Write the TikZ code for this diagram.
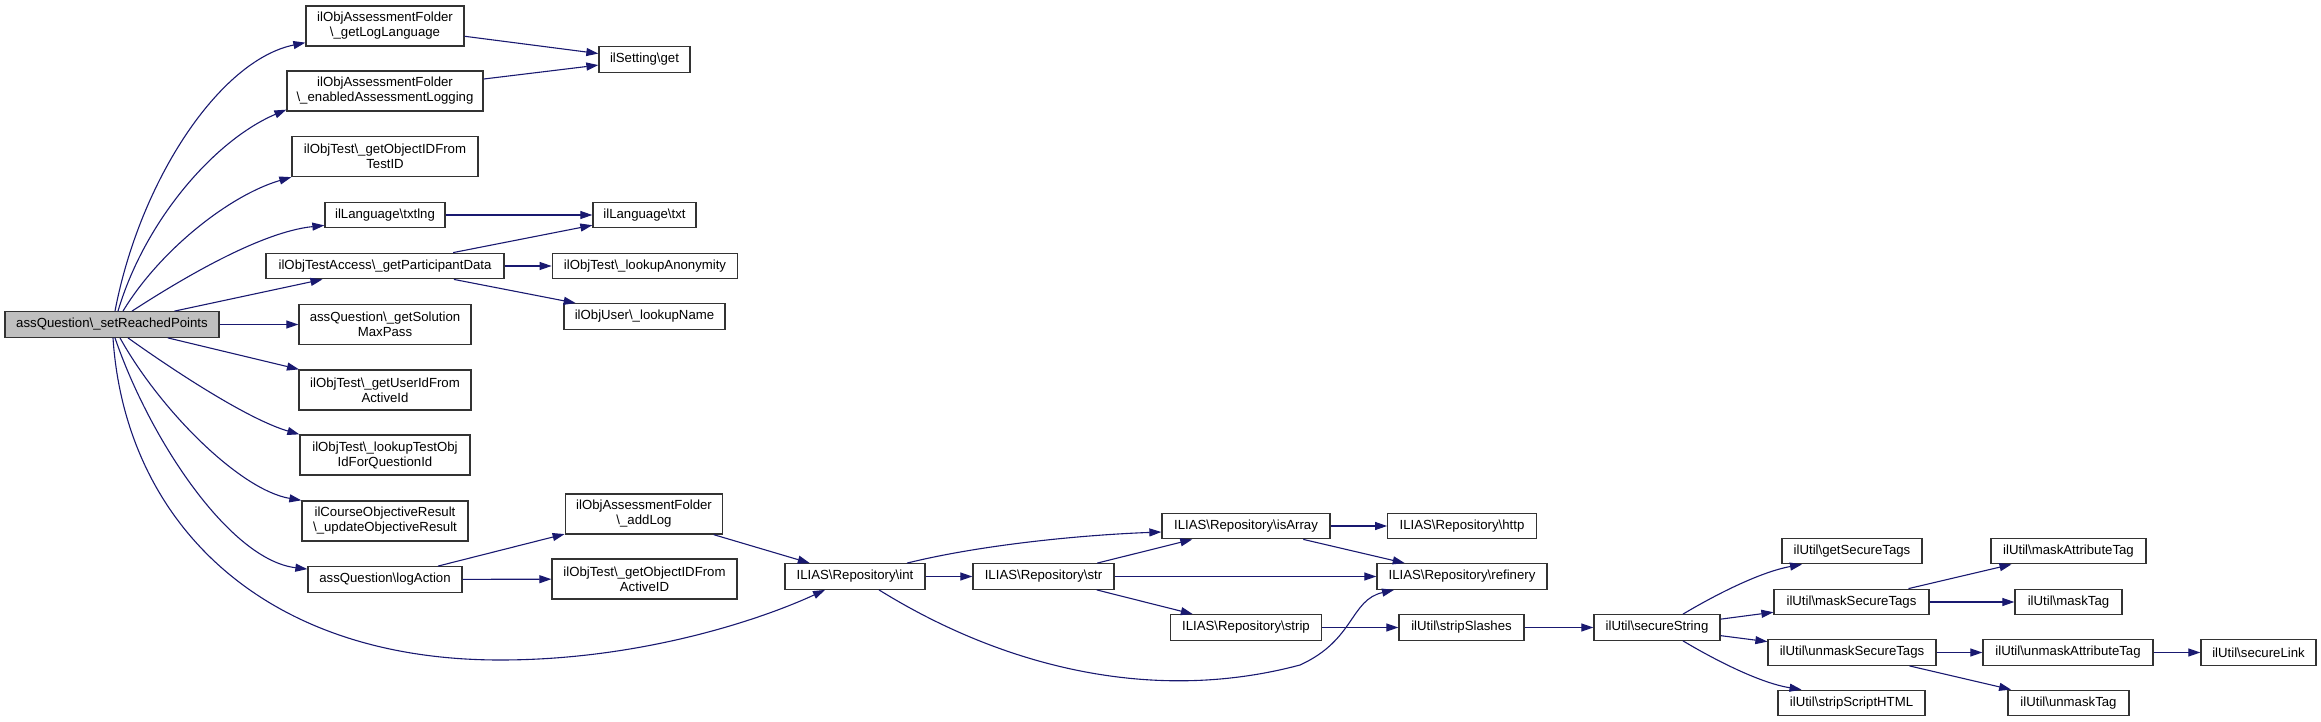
\documentclass[tikz,border=0pt]{standalone}
\usepackage{fontspec}
\setmainfont{Liberation Sans}
\usetikzlibrary{arrows.meta}
\newcommand{\bsl}{\textbackslash}
\definecolor{edgeblue}{HTML}{191970}
\definecolor{rootgray}{HTML}{BFBFBF}

\begin{document}
\begin{tikzpicture}[x=1pt,y=-1pt,
		>={Triangle[length=12pt,width=8pt]},
		fn/.style={draw=black!80,line width=1.3pt,fill=white,inner sep=0pt,minimum height=25.5pt,align=center,font=\fontsize{13.2}{15}\selectfont},
		fntwo/.style={fn,minimum height=40pt},
		call/.style={->,color=edgeblue,line width=1.1pt}]
		\useasboundingbox (0,0) rectangle (2321,722);
		% caller
		\node[fn,fill=rootgray,minimum width=214pt] (root) at (112,324.5) {assQuestion\bsl\_setReachedPoints};
		% first column
		\node[fntwo,minimum width=158pt] (logLang) at (385,26) {ilObjAssessmentFolder\\\bsl\_getLogLanguage};
		\node[fntwo,minimum width=196pt] (enabledLog) at (385,91) {ilObjAssessmentFolder\\\bsl\_enabledAssessmentLogging};
		\node[fntwo,minimum width=186pt] (idFromTest) at (385,156.5) {ilObjTest\bsl\_getObjectIDFrom\\TestID};
		\node[fn,minimum width=120pt] (txtlng) at (385,215) {ilLanguage\bsl txtlng};
		\node[fn,minimum width=238pt] (partData) at (385,266) {ilObjTestAccess\bsl\_getParticipantData};
		\node[fntwo,minimum width=172pt] (solMax) at (385,324.5) {assQuestion\bsl\_getSolution\\MaxPass};
		\node[fntwo,minimum width=172pt] (userId) at (385,390) {ilObjTest\bsl\_getUserIdFrom\\ActiveId};
		\node[fntwo,minimum width=170pt] (testObj) at (385,455) {ilObjTest\bsl\_lookupTestObj\\IdForQuestionId};
		\node[fntwo,minimum width=166pt] (updObj) at (385,521) {ilCourseObjectiveResult\\\bsl\_updateObjectiveResult};
		\node[fn,minimum width=154pt] (logAction) at (385,579.5) {assQuestion\bsl logAction};
		% second column
		\node[fn,minimum width=91pt] (setGet) at (644.5,59.5) {ilSetting\bsl get};
		\node[fn,minimum width=103pt] (langTxt) at (644.5,215) {ilLanguage\bsl txt};
		\node[fn,minimum width=185.5pt] (anonym) at (645,266) {ilObjTest\bsl\_lookupAnonymity};
		\node[fn,minimum width=161pt] (lookName) at (644.5,316.5) {ilObjUser\bsl\_lookupName};
		\node[fntwo,minimum width=157.5pt] (addLog) at (644,514) {ilObjAssessmentFolder\\\bsl\_addLog};
		\node[fntwo,minimum width=185pt] (idFromActive) at (644.5,579) {ilObjTest\bsl\_getObjectIDFrom\\ActiveID};
		% repository
		\node[fn,minimum width=140pt] (repInt) at (855,576.5) {ILIAS\bsl Repository\bsl int};
		\node[fn,minimum width=141pt] (repStr) at (1043.5,576.5) {ILIAS\bsl Repository\bsl str};
		\node[fn,minimum width=168pt] (isArray) at (1246,526) {ILIAS\bsl Repository\bsl isArray};
		\node[fn,minimum width=150.5pt] (repStrip) at (1246,627.5) {ILIAS\bsl Repository\bsl strip};
		\node[fn,minimum width=148.5pt] (http) at (1462,526) {ILIAS\bsl Repository\bsl http};
		\node[fn,minimum width=170pt] (refinery) at (1462,576.5) {ILIAS\bsl Repository\bsl refinery};
		\node[fn,minimum width=125pt] (stripSl) at (1461.5,627.5) {ilUtil\bsl stripSlashes};
		% ilUtil
		\node[fn,minimum width=126pt] (secStr) at (1657,627.5) {ilUtil\bsl secureString};
		\node[fn,minimum width=140pt] (getTags) at (1852,551) {ilUtil\bsl getSecureTags};
		\node[fn,minimum width=155pt] (maskTags) at (1851.5,602) {ilUtil\bsl maskSecureTags};
		\node[fn,minimum width=168pt] (unmaskTags) at (1852,652.5) {ilUtil\bsl unmaskSecureTags};
		\node[fn,minimum width=147pt] (scriptHTML) at (1851.5,703) {ilUtil\bsl stripScriptHTML};
		\node[fn,minimum width=155pt] (maskAttr) at (2068.5,551) {ilUtil\bsl maskAttributeTag};
		\node[fn,minimum width=107pt] (maskTag) at (2068.5,602) {ilUtil\bsl maskTag};
		\node[fn,minimum width=170pt] (unmaskAttr) at (2068,652.5) {ilUtil\bsl unmaskAttributeTag};
		\node[fn,minimum width=121pt] (unmaskTag) at (2068.5,703) {ilUtil\bsl unmaskTag};
		\node[fn,minimum width=115pt] (secLink) at (2258.5,652.5) {ilUtil\bsl secureLink};
		% calls from the caller
		\draw[call] ([xshift=3pt]root.north) .. controls (140,180) and (220,60) .. ([yshift=4pt]logLang.south west);
		\draw[call] ([xshift=6pt]root.north) .. controls (145,220) and (215,140) .. ([yshift=2pt]enabledLog.south west);
		\draw[call] ([xshift=11pt]root.north) .. controls (160,250) and (230,195) .. (idFromTest.south west);
		\draw[call] ([xshift=20pt]root.north) .. controls (180,280) and (260,232) .. ([yshift=3pt]txtlng.south west);
		\draw[call] (root) -- (partData);
		\draw[call] (root) -- (solMax);
		\draw[call] (root) -- (userId);
		\draw[call] ([xshift=16pt]root.south) .. controls (180,375) and (250,420) .. (testObj.north west);
		\draw[call] ([xshift=8pt]root.south) .. controls (160,410) and (240,490) .. (updObj.north west);
		\draw[call] ([xshift=3pt]root.south) .. controls (150,440) and (230,560) .. ([yshift=-3pt]logAction.north west);
		\draw[call] ([xshift=1pt]root.south) .. controls (125,520) and (260,660) .. (500,660) .. controls (640,660) and (760,620) .. ([xshift=-30pt]repInt.south);
		% further calls
		\draw[call] (logLang) -- (setGet);
		\draw[call] (enabledLog) -- (setGet);
		\draw[call] (txtlng) -- (langTxt);
		\draw[call] (partData) -- (langTxt);
		\draw[call] (partData) -- (anonym);
		\draw[call] (partData) -- (lookName);
		\draw[call] (logAction) -- (addLog);
		\draw[call] (logAction) -- (idFromActive);
		\draw[call] (addLog) -- (repInt);
		\draw[call] (repInt) -- (repStr);
		\draw[call] ([xshift=52pt]repInt.north) .. controls (980,545) and (1080,535) .. ([yshift=-6pt]isArray.west);
		\draw[call] ([xshift=24pt]repInt.south) .. controls (1000,665) and (1150,705) .. (1300,665) .. controls (1355,640) and (1350,600) .. ([xshift=-68pt]refinery.south);
		\draw[call] (repStr) -- (isArray);
		\draw[call] (repStr) -- (refinery);
		\draw[call] (repStr) -- (repStrip);
		\draw[call] (isArray) -- (http);
		\draw[call] (isArray) -- (refinery);
		\draw[call] (repStrip) -- (stripSl);
		\draw[call] (stripSl) -- (secStr);
		\draw[call] ([xshift=26pt]secStr.north) .. controls (1715,595) and (1760,572) .. ([xshift=-50pt]getTags.south);
		\draw[call] (secStr) -- (maskTags);
		\draw[call] (secStr) -- (unmaskTags);
		\draw[call] ([xshift=26pt]secStr.south) .. controls (1715,660) and (1760,683) .. ([xshift=-50pt]scriptHTML.north);
		\draw[call] (maskTags) -- (maskAttr);
		\draw[call] (maskTags) -- (maskTag);
		\draw[call] (unmaskTags) -- (unmaskAttr);
		\draw[call] (unmaskTags) -- (unmaskTag);
		\draw[call] (unmaskAttr) -- (secLink);
	\end{tikzpicture}
\end{document}
